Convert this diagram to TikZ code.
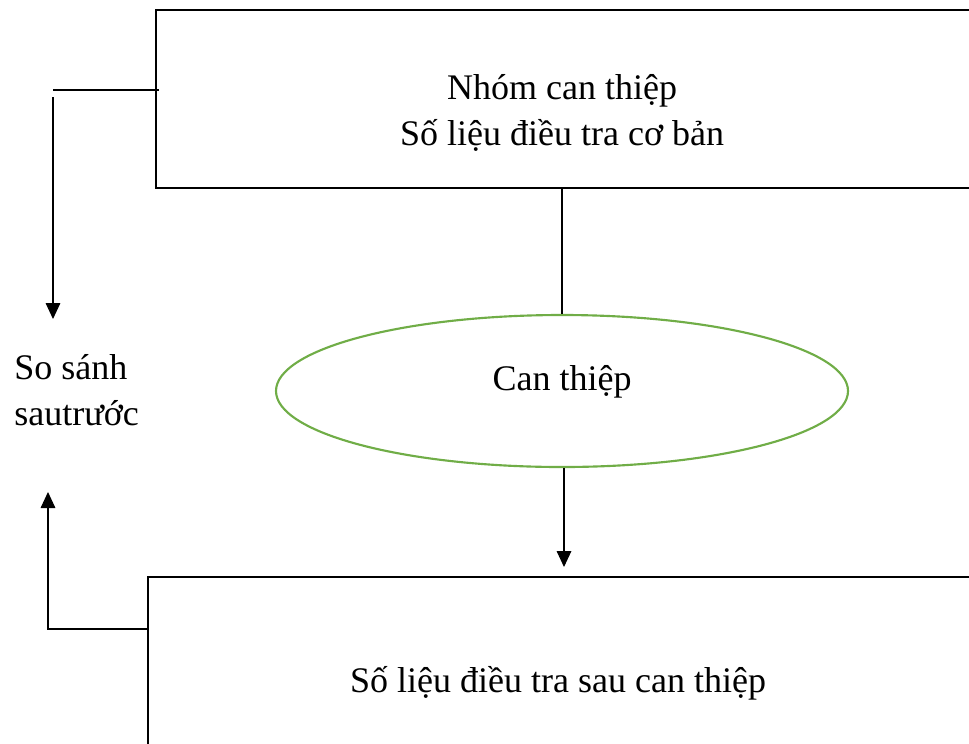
\documentclass[tikz,border=0pt]{standalone}
\usepackage{fontspec}
\setmainfont{Liberation Serif}
\usetikzlibrary{arrows.meta,shapes.geometric}
\definecolor{leafgreen}{RGB}{112,173,71}
\tikzset{
  frame/.style={draw=black, line width=0.9pt, rectangle, inner sep=0pt},
  oval/.style={draw=leafgreen, line width=1.6pt, ellipse, inner sep=0pt,
               minimum width=572*0.75pt, minimum height=152*0.75pt},
  label/.style={font=\fontsize{27}{34}\selectfont, inner sep=0pt},
  link/.style={draw=black, line width=0.8pt},
  arrowlink/.style={link, -{Triangle[length=12pt,width=11pt]}}
}
\begin{document}
\begin{tikzpicture}[x=0.75pt,y=-0.75pt]
  \useasboundingbox (0,0) rectangle (969,743);
  \clip (0,0) rectangle (969,743);

  % boxes (running off the right edge)
  \node[frame, minimum width=819*0.75pt, minimum height=178*0.75pt] (top) at (565.5,99) {};
  \node[frame, minimum width=827*0.75pt, minimum height=200*0.75pt] (bot) at (561.5,677) {};
  \node[oval] (ell) at (562,391) {};

  % texts (base anchor sits on the last line)
  \node[label, anchor=base, align=center] (toptext) at (562,145)
    {Nhóm can thiệp\\Số liệu điều tra cơ bản};
  \node[label, anchor=base] (midtext) at (562,390) {Can thiệp};
  \node[label, anchor=base] (bottext) at (558,692) {Số liệu điều tra sau can thiệp};
  \node[label, anchor=base west, align=left] (cmp) at (14,425) {So sánh\\sautrước};

  % connectors
  \draw[link] (ell.north |- top.south) -- (ell.north);
  \coordinate (tip1) at (564,567);
  \draw[arrowlink] (ell.south -| tip1) -- (tip1);

  \coordinate (c1) at (53,90);
  \coordinate (c1s) at (53,97);
  \coordinate (tip2) at (53,319);
  \draw[link] (c1) -- ([xshift=3pt]top.west |- c1);
  \draw[arrowlink] (c1s) -- (tip2);

  \coordinate (c2) at (48,629);
  \coordinate (tip3) at (48,492);
  \draw[arrowlink] (bot.west |- c2) -- (c2) -- (tip3);
\end{tikzpicture}
\end{document}
